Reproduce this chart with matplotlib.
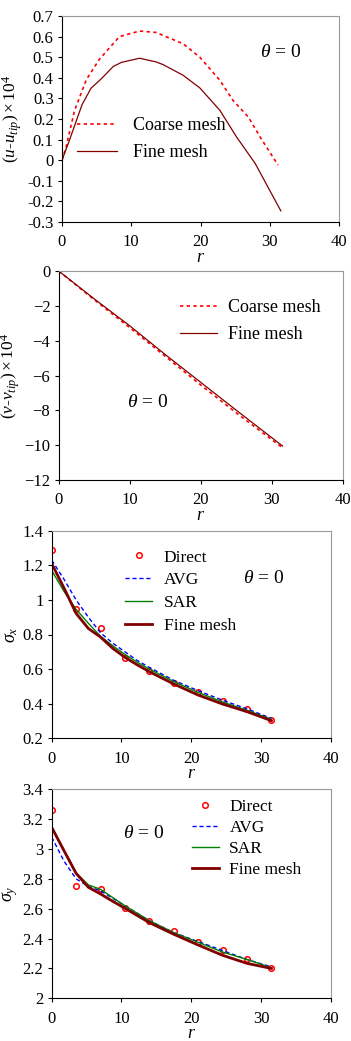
import matplotlib.pyplot as plt

plt.rcParams['font.family'] = ['Liberation Serif', 'DejaVu Serif']
plt.rcParams['mathtext.fontset'] = 'custom'
plt.rcParams['mathtext.rm'] = 'Liberation Serif'
plt.rcParams['mathtext.it'] = 'Liberation Serif:italic'

# panel 1: u displacement
u_r_coarse = [0, 0.6, 1.8, 3.5, 5.4, 8.3, 11.2, 13.6, 17.5, 19.9, 22.8, 24.7, 26.9, 28.6, 31.2]
u_coarse = [0, 0.065, 0.24, 0.39, 0.49, 0.60, 0.627, 0.62, 0.565, 0.50, 0.388, 0.29, 0.21, 0.113, -0.024]
u_r_fine = [0, 1.0, 2.9, 4.2, 5.7, 7.4, 8.6, 11.2, 13.6, 14.6, 17.5, 19.9, 22.8, 25.2, 27.9, 31.6]
u_fine = [0, 0.09, 0.27, 0.35, 0.396, 0.455, 0.475, 0.495, 0.477, 0.464, 0.412, 0.351, 0.242, 0.113, -0.016, -0.246]

# panel 2: v displacement
v_r = [0, 5, 10, 15, 20, 25, 31.5]
v_coarse = [0, -1.65, -3.25, -4.9, -6.55, -8.15, -10.15]
v_fine = [0, -1.6, -3.15, -4.8, -6.4, -8.0, -10.05]

# panel 3: sigma_x
r_direct = [0, 3.5, 7, 10.5, 14, 17.5, 21, 24.5, 28, 31.5]
sx_direct = [1.29, 0.95, 0.835, 0.665, 0.59, 0.52, 0.465, 0.415, 0.37, 0.305]
r_curve = [0, 1.75, 3.5, 5.25, 7, 8.75, 10.5, 12.25, 14, 17.5, 21, 24.5, 28, 31.5]
sx_avg = [1.23, 1.12, 1.0, 0.9, 0.81, 0.75, 0.70, 0.65, 0.61, 0.535, 0.475, 0.42, 0.37, 0.315]
sx_sar = [1.17, 1.05, 0.945, 0.865, 0.79, 0.735, 0.685, 0.64, 0.6, 0.528, 0.465, 0.41, 0.362, 0.31]
sx_fine = [1.21, 1.07, 0.922, 0.835, 0.785, 0.72, 0.668, 0.625, 0.585, 0.514, 0.45, 0.398, 0.354, 0.302]

# panel 4: sigma_y
sy_direct = [3.26, 2.75, 2.73, 2.605, 2.515, 2.45, 2.38, 2.325, 2.265, 2.205]
sy_avg = [3.08, 2.92, 2.8, 2.75, 2.72, 2.67, 2.62, 2.57, 2.52, 2.44, 2.38, 2.32, 2.26, 2.21]
sy_sar = [3.15, 2.99, 2.84, 2.76, 2.73, 2.675, 2.62, 2.57, 2.52, 2.44, 2.375, 2.31, 2.26, 2.205]
sy_fine = [3.145, 2.99, 2.837, 2.744, 2.699, 2.65, 2.603, 2.555, 2.507, 2.429, 2.357, 2.288, 2.234, 2.2]

DARK = '#800000'
W, H = 351, 1041
fig = plt.figure(figsize=(W / 100, H / 100), dpi=100)


def make_ax(left, top, right, bottom):
    ax = fig.add_axes([left / W, 1 - bottom / H, (right - left) / W, (bottom - top) / H])
    for s in ('top', 'right'):
        ax.spines[s].set_color('#999999')
    for s in ('left', 'bottom'):
        ax.spines[s].set_color('black')
    for s in ax.spines.values():
        s.set_linewidth(0.8)
    ax.tick_params(direction='out', length=3, width=0.8, labelsize=12)
    ax.tick_params(axis='x', pad=6)
    ax.tick_params(axis='y', pad=3)
    ax.set_xlim(0, 40)
    ax.set_xticks([0, 10, 20, 30, 40])
    ax.set_xlabel('$r$', fontsize=13, labelpad=-1)
    return ax


def add_legend(ax, x, y, hl, pad, spacing, size=13):
    ax.legend(loc='upper left', bbox_to_anchor=(x, y), frameon=False, fontsize=size,
              handlelength=hl, handletextpad=pad, labelspacing=spacing,
              borderpad=0, borderaxespad=0)


theta = r'$\theta$ = 0'

# ---- panel 1
ax1 = make_ax(62, 16, 339, 222)
ax1.plot(u_r_coarse, u_coarse, color='red', ls=(0, (2, 2)), lw=1.2, label='Coarse mesh')
ax1.plot(u_r_fine, u_fine, color=DARK, lw=0.9, label='Fine mesh')
ax1.set_ylim(-0.3, 0.7)
ax1.set_yticks([-0.3, -0.2, -0.1, 0, 0.1, 0.2, 0.3, 0.4, 0.5, 0.6, 0.7])
ax1.set_yticklabels(['-0.3', '-0.2', '-0.1', '0', '0.1', '0.2', '0.3', '0.4', '0.5', '0.6', '0.7'])
ax1.set_ylabel(r'$(u$-$u_{tip})\times10^4$', fontsize=12.5, labelpad=2)
ax1.text(0.715, 0.825, theta, transform=ax1.transAxes, fontsize=14, va='center')
add_legend(ax1, 0.054, 0.51, 2.2, 0.9, 0.55)

# ---- panel 2
ax2 = make_ax(58.7, 271, 343, 480)
ax2.plot(v_r, v_coarse, color='red', ls=(0, (2, 2)), lw=1.2, label='Coarse mesh')
ax2.plot(v_r, v_fine, color=DARK, lw=0.9, label='Fine mesh')
ax2.set_ylim(-12, 0)
ax2.set_yticks([-12, -10, -8, -6, -4, -2, 0])
ax2.set_ylabel(r'$(v$-$v_{tip})\times10^4$', fontsize=12.5, labelpad=2)
ax2.text(0.24, 0.373, theta, transform=ax2.transAxes, fontsize=14, va='center')
add_legend(ax2, 0.427, 0.866, 2.05, 0.6, 0.55)

# ---- panel 3
ax3 = make_ax(51.7, 530.7, 330.7, 738.3)
ax3.plot(r_direct, sx_direct, 'o', mfc='none', mec='red', ms=4, mew=1.1, label='Direct')
ax3.plot(r_curve, sx_avg, color='#0000FF', ls=(0, (3, 2)), lw=1.0, label='AVG')
ax3.plot(r_curve, sx_sar, color='green', lw=1.0, label='SAR')
ax3.plot(r_curve, sx_fine, color=DARK, lw=2.0, label='Fine mesh')
ax3.set_ylim(0.2, 1.4)
ax3.set_yticks([0.2, 0.4, 0.6, 0.8, 1.0, 1.2, 1.4])
ax3.set_yticklabels(['0.2', '0.4', '0.6', '0.8', '1', '1.2', '1.4'])
ax3.set_ylabel(r'$\sigma_x$', fontsize=13, labelpad=2)
ax3.text(0.685, 0.77, theta, transform=ax3.transAxes, fontsize=14, va='center')
add_legend(ax3, 0.263, 0.91, 1.55, 0.67, 0.38, size=12.5)

# ---- panel 4
ax4 = make_ax(51.7, 789.3, 330.7, 998.3)
ax4.plot(r_direct, sy_direct, 'o', mfc='none', mec='red', ms=4, mew=1.1, label='Direct')
ax4.plot(r_curve, sy_avg, color='#0000FF', ls=(0, (3, 2)), lw=1.0, label='AVG')
ax4.plot(r_curve, sy_sar, color='green', lw=1.0, label='SAR')
ax4.plot(r_curve, sy_fine, color=DARK, lw=2.0, label='Fine mesh')
ax4.set_ylim(2.0, 3.4)
ax4.set_yticks([2.0, 2.2, 2.4, 2.6, 2.8, 3.0, 3.2, 3.4])
ax4.set_yticklabels(['2', '2.2', '2.4', '2.6', '2.8', '3', '3.2', '3.4'])
ax4.set_ylabel(r'$\sigma_y$', fontsize=13, labelpad=2)
ax4.text(0.255, 0.79, theta, transform=ax4.transAxes, fontsize=14, va='center')
add_legend(ax4, 0.503, 0.954, 1.55, 0.6, 0.28, size=12.5)

fig.savefig('out.png', dpi=100)
